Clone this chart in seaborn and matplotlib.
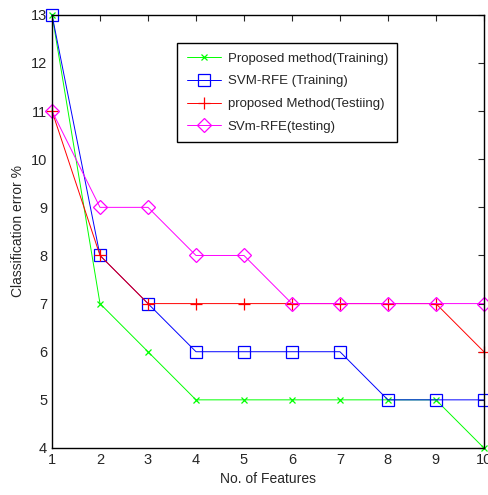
import matplotlib
matplotlib.use("Agg")
import matplotlib.pyplot as plt
import seaborn as sns
import pandas as pd

# Data
features = [1, 2, 3, 4, 5, 6, 7, 8, 9, 10]
proposed_train = [13, 7, 6, 5, 5, 5, 5, 5, 5, 4]
svm_rfe_train = [13, 8, 7, 6, 6, 6, 6, 5, 5, 5]
proposed_test = [11, 8, 7, 7, 7, 7, 7, 7, 7, 6]
svm_rfe_test = [11, 9, 9, 8, 8, 7, 7, 7, 7, 7]

labels = ['Proposed method(Training)', 'SVM-RFE (Training)',
          'proposed Method(Testiing)', 'SVm-RFE(testing)']
series = [proposed_train, svm_rfe_train, proposed_test, svm_rfe_test]

df = pd.DataFrame({
    'features': features * 4,
    'error': sum(series, []),
    'method': [lab for lab in labels for _ in features],
})

sns.set_style("white")
plt.rcParams['font.family'] = ['Liberation Sans', 'DejaVu Sans']

fig = plt.figure(figsize=(4.88, 4.95), dpi=100)
ax = fig.add_axes([0.1066, 0.095, 0.885, 0.875])

colors = ['#00ff00', '#0000ff', '#ff0000', '#ff00ff']
markers = ['x', 's', '+', 'D']
sizes = [4, 8, 8, 7]
for lab, col, mk, ms in zip(labels, colors, markers, sizes):
    sub = df[df['method'] == lab]
    sns.lineplot(data=sub, x='features', y='error', ax=ax, color=col,
                 marker=mk, markersize=ms, markerfacecolor='none',
                 markeredgecolor=col, markeredgewidth=0.9,
                 linewidth=0.7, label=lab, clip_on=False)

ax.set_xlim(1, 10)
ax.set_ylim(4, 13)
ax.set_xticks(range(1, 11))
ax.set_yticks(range(4, 14))
ax.tick_params(direction='in', top=True, right=True, length=4, labelsize=10.5)
for sp in ax.spines.values():
    sp.set_color('black')
    sp.set_linewidth(1.0)
ax.set_xlabel('No. of Features', fontsize=10)
ax.set_ylabel('Classification error %', fontsize=10)

leg = ax.legend(loc='upper right', bbox_to_anchor=(0.8135, 0.913),
                bbox_transform=fig.transFigure, fancybox=False, fontsize=9.5,
                edgecolor='black', framealpha=1, handlelength=2.6,
                borderpad=0.7, labelspacing=0.8, borderaxespad=0,
                handletextpad=0.5)
leg.get_frame().set_linewidth(1.0)

fig.savefig('out.png', dpi=100)
